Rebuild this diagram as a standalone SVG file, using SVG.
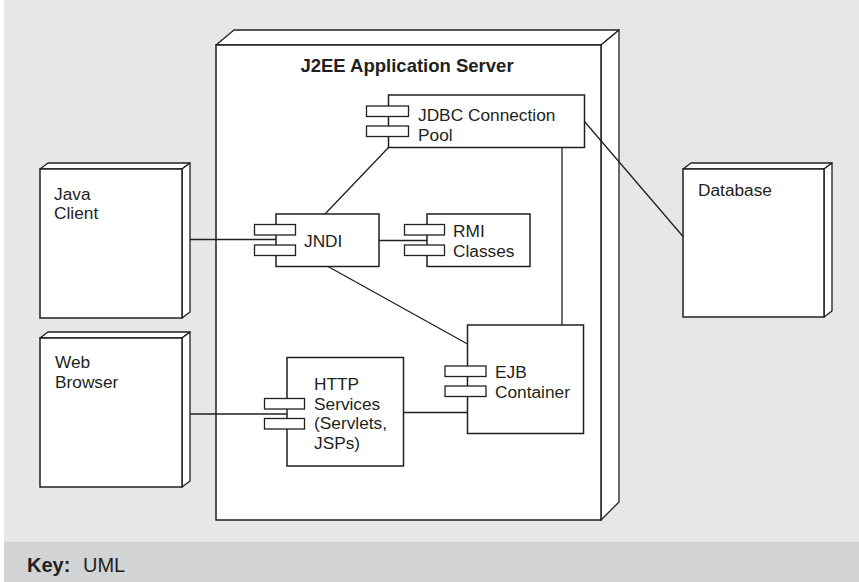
<svg xmlns="http://www.w3.org/2000/svg" width="859" height="582" viewBox="0 0 859 582">
<style>
.bg{fill:#e6e7e8}
.key{fill:#d1d3d4}
.box{fill:#fff;stroke:#231f20;stroke-width:1.5}
.side{fill:#fff;stroke:#231f20;stroke-width:1.3;stroke-linejoin:round}
.tab{fill:#fff;stroke:#231f20;stroke-width:1.3}
.ln{fill:none;stroke:#231f20;stroke-width:1.3}
text{font-family:"Liberation Sans",Arial,Helvetica,sans-serif;font-size:17.3px;fill:#231f20}
.title{font-weight:bold;text-anchor:middle;font-size:18.5px}
</style>
<rect class="bg" x="4" y="0" width="855" height="542"/>
<rect class="key" x="4" y="542" width="855" height="40"/>
<text x="27" y="572" style="font-size:20px"><tspan style="font-weight:bold">Key:</tspan><tspan x="83">UML</tspan></text>

<g id="server">
<polygon class="side" points="216,45 234,30 619,30 601,45"/>
<polygon class="side" points="601,45 619,30 619,502 601,520"/>
<rect class="box" x="216" y="45" width="385" height="475"/>
<text class="title" x="407" y="72">J2EE Application Server</text>
</g>

<g id="java-client">
<polygon class="side" points="40,169 48,163 190,163 182,169"/>
<polygon class="side" points="182,169 190,163 190,312 182,318"/>
<rect class="box" x="40" y="169" width="142" height="149"/>
<text x="54" y="199.5">Java<tspan x="54" dy="19.5">Client</tspan></text>
</g>

<g id="web-browser">
<polygon class="side" points="40,338 48,332 190,332 182,338"/>
<polygon class="side" points="182,338 190,332 190,481 182,487"/>
<rect class="box" x="40" y="338" width="142" height="149"/>
<text x="55" y="368">Web<tspan x="55" dy="19.5">Browser</tspan></text>
</g>

<g id="database">
<polygon class="side" points="683,169 691,163 832,163 824,169"/>
<polygon class="side" points="824,169 832,163 832,311 824,317"/>
<rect class="box" x="683" y="169" width="141" height="148"/>
<text x="698" y="196">Database</text>
</g>

<g id="connectors">
<line class="ln" x1="190" y1="239.5" x2="276" y2="239.5"/>
<line class="ln" x1="379" y1="240.5" x2="427" y2="240.5"/>
<line class="ln" x1="325" y1="214" x2="388.5" y2="147.5"/>
<line class="ln" x1="328" y1="266.5" x2="467.5" y2="344"/>
<line class="ln" x1="562" y1="147.5" x2="562" y2="325"/>
<line class="ln" x1="584.5" y1="121.5" x2="683" y2="236.5"/>
<line class="ln" x1="190" y1="414" x2="287" y2="414"/>
<line class="ln" x1="403.5" y1="412.5" x2="467.5" y2="412.5"/>
</g>

<g id="jdbc">
<rect class="box" x="388.5" y="95" width="196" height="52.5"/>
<rect class="tab" x="366.5" y="106" width="42" height="10.5"/>
<rect class="tab" x="366.5" y="126" width="42" height="10.5"/>
<text x="418" y="121">JDBC Connection<tspan x="418" dy="19.5">Pool</tspan></text>
</g>

<g id="jndi">
<rect class="box" x="276" y="214" width="103" height="52.5"/>
<rect class="tab" x="254.5" y="224.5" width="41" height="10.5"/>
<rect class="tab" x="254.5" y="245" width="41" height="10.5"/>
<text x="304" y="247">JNDI</text>
</g>

<g id="rmi">
<rect class="box" x="427" y="214" width="103" height="52.5"/>
<rect class="tab" x="404.5" y="224.5" width="40" height="10.5"/>
<rect class="tab" x="404.5" y="245" width="40" height="10.5"/>
<text x="453" y="237">RMI<tspan x="453" dy="19.5">Classes</tspan></text>
</g>

<g id="ejb">
<rect class="box" x="467.5" y="325" width="116" height="108.5"/>
<rect class="tab" x="445" y="366" width="41" height="10.5"/>
<rect class="tab" x="445" y="386" width="41" height="10.5"/>
<text x="495" y="378">EJB<tspan x="495" dy="19.5">Container</tspan></text>
</g>

<g id="http">
<rect class="box" x="287" y="357.5" width="116.5" height="108.5"/>
<rect class="tab" x="264.5" y="398.5" width="40" height="10.5"/>
<rect class="tab" x="264.5" y="418.5" width="40" height="10.5"/>
<text x="314" y="390">HTTP<tspan x="314" dy="19.5">Services</tspan><tspan x="314" dy="19.5">(Servlets,</tspan><tspan x="314" dy="19.5">JSPs)</tspan></text>
</g>
</svg>
